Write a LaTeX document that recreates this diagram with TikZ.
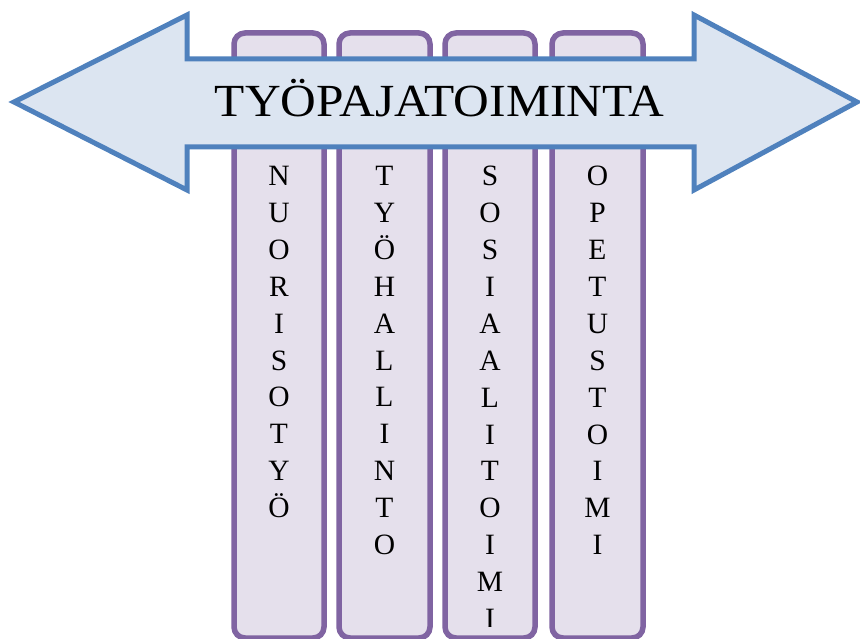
\documentclass[tikz,border=0pt]{standalone}
\usepackage{fontspec}
\setmainfont{Liberation Serif}
\begin{document}
\begin{tikzpicture}[x=1pt,y=-1pt,
  column/.style={draw=colstroke, fill=colfill, line width=5.5pt, rounded corners=11pt},
  letters/.style={align=center, inner sep=0pt, anchor=north,
    font=\fontsize{29.5}{36.9}\selectfont},
  banner/.style={draw=arrowstroke, fill=arrowfill, line width=5pt, line join=miter}]
\definecolor{colstroke}{HTML}{8064A2}
\definecolor{colfill}{HTML}{E5E0EC}
\definecolor{arrowstroke}{HTML}{4F81BD}
\definecolor{arrowfill}{HTML}{DCE5F1}
\useasboundingbox (0,0) rectangle (860,639);

% four vertical columns behind the arrow
\draw[column] (234,33) rectangle (324,638);
\draw[column] (339,33) rectangle (430,638);
\draw[column] (445,33) rectangle (535,638);
\draw[column] (552,33) rectangle (643,638);

\node[letters] (nuoriso) at (279,166) {N\\U\\O\\R\\I\\S\\O\\T\\Y\\Ö};
\node[letters] (tyohallinto) at (384.5,166) {T\\Y\\Ö\\H\\A\\L\\L\\I\\N\\T\\O};
\begin{scope}
  \clip (445,150) rectangle (535,626);
  \node[letters] (sosiaalitoimi) at (490,166) {S\\O\\S\\I\\A\\A\\L\\I\\T\\O\\I\\M\\I};
\end{scope}
\node[letters] (opetustoimi) at (597.5,166) {O\\P\\E\\T\\U\\S\\T\\O\\I\\M\\I};

% double-headed arrow across the columns
\draw[banner] (14,102) -- (187,15) -- (187,59) -- (694,59) -- (694,15)
  -- (857,102) -- (694,190) -- (694,147) -- (187,147) -- (187,190) -- cycle;
\node[font=\fontsize{46}{50}\selectfont, inner sep=0pt, anchor=base,
  xscale=1.075, transform shape] (title) at (439.5,117) {TYÖPAJATOIMINTA};
\end{tikzpicture}
\end{document}
